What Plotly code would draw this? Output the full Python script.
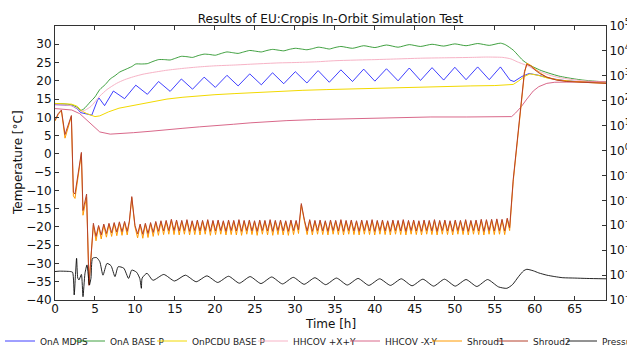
import plotly.graph_objects as go

# ---------------- data ----------------
SERIES_NAMES = ["OnA MDPS", "OnA BASE P", "OnPCDU BASE P", "HHCOV +X+Y",
                "HHCOV -X-Y", "Shroud1", "Shroud2", "Pressure"]

X_TICKS = [0, 5, 10, 15, 20, 25, 30, 35, 40, 45, 50, 55, 60, 65]
Y_TICKS = [-40, -35, -30, -25, -20, -15, -10, -5, 0, 5, 10, 15, 20, 25, 30]
Y2_TICKS = [1e-6, 1e-5, 1e-4, 1e-3, 1e-2, 1e-1, 1e0, 1e1, 1e2, 1e3, 1e4, 1e5]
Y2_TICKTEXT = ["10<sup>\u22126</sup>", "10<sup>\u22125</sup>", "10<sup>\u22124</sup>",
               "10<sup>\u22123</sup>", "10<sup>\u22122</sup>", "10<sup>\u22121</sup>",
               "10<sup>0</sup>", "10<sup>1</sup>", "10<sup>2</sup>", "10<sup>3</sup>",
               "10<sup>4</sup>", "10<sup>5</sup>"]

# OnA MDPS
T_MDPS = [0, 1.0, 2.1, 2.8, 3.2, 4.0, 4.6, 5.3, 5.5, 6.2,
          7.3, 8.7, 10.1, 11.55, 12.95, 14.4, 15.8, 17.2, 18.65, 20.05,
          21.5, 22.9, 24.35, 25.8, 27.2, 28.6, 30.05, 31.5, 32.9, 34.3,
          35.75, 37.2, 38.6, 40.0, 41.45, 42.9, 44.3, 45.7, 47.15, 48.6,
          50.0, 51.4, 52.85, 54.3, 55.7, 56.9, 57.4, 58.4, 59.3, 60.5,
          62.0, 64.0, 66.0, 68.9]
V_MDPS = [13.5, 13.4, 13.2, 12.3, 11.3, 10.9, 10.6, 14.6, 15.3, 13.2,
          17.2, 15.1, 18.8, 16.3, 19.8, 17.1, 20.5, 17.7, 21.0, 18.2,
          21.5, 18.6, 21.9, 18.9, 22.2, 19.2, 22.5, 19.4, 22.8, 19.6,
          23.0, 19.8, 23.2, 19.9, 23.3, 20.0, 23.5, 20.1, 23.6, 20.2,
          23.7, 20.3, 23.8, 20.3, 23.8, 20.2, 19.8, 21.2, 22.0, 21.5,
          20.6, 20.0, 19.7, 19.5]

# OnA BASE P
T_BASE = [0, 1.0, 2.1, 2.8, 3.2, 3.6, 4.4, 5.0, 5.6, 6.3,
          6.9, 7.5, 8.1, 8.9, 9.6, 10.1, 10.8, 11.55, 12.25, 12.95,
          13.7, 14.4, 15.1, 15.8, 16.5, 17.2, 17.9, 18.65, 19.35, 20.05,
          20.8, 21.5, 22.2, 22.9, 23.6, 24.35, 25.1, 25.8, 26.5, 27.2,
          27.9, 28.6, 29.3, 30.05, 30.8, 31.5, 32.2, 32.9, 33.6, 34.3,
          35.0, 35.75, 37.2, 38.6, 40.0, 41.45, 42.9, 44.3, 45.7, 47.15,
          48.6, 50.0, 51.4, 52.85, 54.3, 55.7, 56.3, 57.3, 57.9, 58.5,
          59.2, 59.8, 60.8, 61.9, 63.0, 63.9, 65.0, 66.0, 67.5, 68.9]
V_BASE = [13.8, 13.7, 13.4, 12.7, 11.9, 12.3, 14.2, 15.6, 17.6, 19.0,
          20.5, 21.4, 22.4, 23.2, 23.9, 24.6, 24.6, 24.7, 25.3, 25.8,
          25.8, 25.7, 26.2, 26.7, 26.6, 26.4, 26.9, 27.3, 27.2, 27.0,
          27.5, 27.9, 27.7, 27.5, 27.9, 28.3, 28.1, 27.9, 28.3, 28.6,
          28.4, 28.2, 28.6, 28.9, 28.7, 28.5, 28.8, 29.2, 29.0, 28.7,
          29.1, 29.4, 28.9, 29.6, 29.1, 29.8, 29.2, 29.9, 29.4, 30.0,
          29.5, 30.1, 29.6, 30.2, 29.7, 30.3, 29.9, 28.4, 27.0, 25.6,
          24.5, 23.8, 22.8, 22.0, 21.3, 20.9, 20.5, 20.2, 19.9, 19.7]

# OnPCDU BASE P
T_PCDU = [0, 2.1, 2.8, 3.3, 4.0, 5.0, 5.6, 6.7, 8.0, 9.8,
          12.0, 14.0, 16.0, 18.0, 20.0, 22.5, 25.0, 28.0, 31.0, 34.0,
          37.0, 40.0, 43.0, 46.0, 49.0, 52.0, 55.0, 56.5, 57.3, 58.0,
          58.7, 59.4, 60.4, 61.5, 63.0, 65.0, 66.9, 68.9]
V_PCDU = [13.8, 13.6, 13.0, 11.8, 11.0, 10.2, 10.4, 11.5, 12.5, 13.3,
          14.3, 15.0, 15.5, 15.9, 16.2, 16.5, 16.8, 17.1, 17.4, 17.6,
          17.8, 18.0, 18.2, 18.3, 18.5, 18.6, 18.7, 18.8, 19.0, 20.0,
          21.2, 21.9, 21.5, 20.8, 20.2, 19.8, 19.7, 19.6]

# HHCOV +X+Y
T_HHP = [0, 2.0, 2.8, 3.2, 3.8, 4.5, 5.6, 6.5, 7.7, 8.7,
         9.8, 11.0, 12.0, 14.0, 16.0, 18.0, 20.0, 22.3, 25.0, 28.0,
         30.0, 32.7, 35.0, 38.0, 40.0, 43.0, 46.0, 49.0, 52.0, 54.0,
         56.0, 57.0, 57.8, 58.5, 59.2, 60.0, 61.0, 61.9, 63.0, 64.5,
         66.0, 68.9]
V_HHP = [13.4, 13.2, 12.4, 11.6, 12.0, 13.0, 15.8, 17.6, 19.3, 20.3,
         21.1, 21.8, 22.2, 22.9, 23.4, 23.8, 24.1, 24.3, 24.6, 24.9,
         25.0, 25.2, 25.5, 25.7, 25.8, 26.0, 26.2, 26.3, 26.4, 26.5,
         26.4, 26.0, 25.2, 24.6, 24.0, 23.0, 22.2, 21.5, 20.9, 20.4,
         20.0, 19.7]

# HHCOV -X-Y
T_HHM = [0, 2.1, 3.1, 4.4, 5.6, 6.9, 8.0, 9.8, 12.0, 14.0,
         16.0, 18.1, 20.0, 22.3, 24.5, 26.5, 29.0, 32.7, 34.8, 38.0,
         43.1, 47.0, 51.5, 55.0, 57.1, 57.6, 58.3, 59.0, 59.8, 60.5,
         61.5, 62.5, 63.9, 66.0, 68.9]
V_HHM = [12.4, 12.0, 11.0, 8.3, 6.0, 5.4, 5.5, 5.8, 6.2, 6.5,
         7.0, 7.4, 7.8, 8.1, 8.5, 8.8, 9.1, 9.4, 9.5, 9.7,
         10.0, 10.1, 10.1, 10.1, 10.2, 11.2, 12.9, 15.0, 17.2, 18.4,
         19.3, 19.6, 19.7, 19.7, 19.7]

# Shrouds (time in segments)
T_SH_EARLY = [0.0, 0.4, 0.8, 1.25, 2.05, 2.3, 2.5, 3.3, 3.5, 3.95, 4.25, 4.8]
S2_EARLY = [9.2, 11.0, 12.0, 5.3, 10.5, -10.5, -11.0, 0.4, -15.5, -11.0, -36.0, -19.0]
S1_EARLY = [9.0, 10.8, 11.8, 4.3, 10.2, -11.5, -12.2, 0.0, -16.8, -11.8, -35.5, -19.5]

T_SH_A = [5.13, 5.45, 5.78, 6.1, 6.43, 6.75, 7.08, 7.4, 7.73, 8.05, 8.38, 8.7, 9.03, 9.3,
          9.6, 10.0]
S2_A = [-22.6, -19.6, -22.2, -19.2, -21.8, -19.0, -21.6, -18.8, -21.4, -18.6, -21.3, -18.5,
        -21.2, -18.4, -11.7, -19.6]
S1_A = [-23.8, -19.9, -23.3, -19.5, -22.8, -19.3, -22.6, -19.1, -22.4, -18.9, -22.3, -18.8,
        -22.2, -18.7, -12.0, -20.0]

T_SH_B = [10.33, 10.65, 10.98, 11.3, 11.63, 11.95, 12.28, 12.6, 12.93, 13.25,
          13.58, 13.9, 14.23, 14.55, 14.88, 15.2, 15.53, 15.85, 16.18, 16.5,
          16.83, 17.15, 17.48, 17.8, 18.13, 18.45, 18.78, 19.1, 19.43, 19.75,
          20.08, 20.4, 20.73, 21.05, 21.38, 21.7, 22.03, 22.35, 22.68, 23.0,
          23.33, 23.65, 23.98, 24.3, 24.63, 24.95, 25.28, 25.6, 25.93, 26.25,
          26.58, 26.9, 27.23, 27.55, 27.88, 28.2, 28.53, 28.85, 29.18, 29.5,
          29.83, 30.15, 30.45, 30.8, 31.2]
S2_B = [-21.9, -19.2, -22.0, -19.0, -21.8, -18.8, -21.5, -18.5, -21.2, -18.3,
        -21.1, -18.2, -21.0, -17.9, -21.0, -18.1, -21.1, -18.2, -21.0, -18.0,
        -21.2, -18.3, -21.0, -18.1, -21.1, -18.2, -21.0, -18.0, -21.2, -18.2,
        -21.1, -18.1, -21.0, -18.3, -21.2, -18.1, -21.0, -18.2, -21.1, -18.0,
        -21.2, -18.2, -21.0, -18.1, -21.1, -18.3, -21.2, -18.1, -21.0, -18.2,
        -21.1, -18.0, -21.2, -18.2, -21.0, -18.1, -21.1, -18.3, -21.2, -18.1,
        -21.0, -18.2, -20.8, -13.6, -18.2]
S1_B = [-23.0, -19.5, -23.1, -19.3, -22.9, -19.1, -22.6, -18.8, -22.3, -18.6,
        -22.1, -18.5, -22.0, -18.2, -22.1, -18.4, -22.2, -18.5, -22.0, -18.3,
        -22.2, -18.6, -22.1, -18.4, -22.2, -18.5, -22.0, -18.3, -22.3, -18.5,
        -22.1, -18.4, -22.0, -18.6, -22.2, -18.4, -22.1, -18.5, -22.2, -18.3,
        -22.3, -18.5, -22.0, -18.4, -22.1, -18.6, -22.3, -18.4, -22.0, -18.5,
        -22.2, -18.3, -22.3, -18.5, -22.1, -18.4, -22.2, -18.6, -22.3, -18.4,
        -22.1, -18.5, -21.8, -14.0, -18.6]

T_SH_C = [31.53, 31.85, 32.18, 32.5, 32.83, 33.15, 33.48, 33.8, 34.13, 34.45,
          34.78, 35.1, 35.43, 35.75, 36.08, 36.4, 36.73, 37.05, 37.38, 37.7,
          38.03, 38.35, 38.68, 39.0, 39.33, 39.65, 39.98, 40.3, 40.63, 40.95,
          41.28, 41.6, 41.93, 42.25, 42.58, 42.9, 43.23, 43.55, 43.88, 44.2,
          44.53, 44.85, 45.18, 45.5, 45.83, 46.15, 46.48, 46.8, 47.13, 47.45,
          47.78, 48.1, 48.43, 48.75, 49.08, 49.4, 49.73, 50.05, 50.38, 50.7,
          51.03, 51.35, 51.68, 52.0, 52.33, 52.65, 52.98, 53.3, 53.63, 53.95,
          54.28, 54.6, 54.93, 55.25, 55.58, 55.9, 56.23, 56.55, 56.85]
S2_C = [-21.1, -18.0, -21.2, -18.2, -21.0, -18.1, -21.1, -18.3, -21.2, -18.1,
        -21.0, -18.2, -21.1, -18.0, -21.2, -18.2, -21.0, -18.1, -21.1, -18.3,
        -21.2, -18.1, -21.0, -18.2, -21.1, -18.0, -21.2, -18.2, -21.0, -18.1,
        -21.1, -18.3, -21.2, -18.1, -21.0, -18.2, -21.1, -18.0, -21.2, -18.2,
        -21.0, -18.1, -21.1, -18.3, -21.2, -18.1, -21.0, -18.2, -21.1, -18.0,
        -21.2, -18.2, -21.0, -18.1, -21.1, -18.3, -21.2, -18.1, -21.0, -18.2,
        -21.1, -18.0, -21.2, -18.2, -21.0, -18.1, -21.1, -17.9, -21.2, -18.0,
        -21.0, -17.9, -21.1, -17.8, -21.0, -17.9, -21.1, -17.6, -20.2]
S1_C = [-22.1, -18.3, -22.2, -18.5, -22.0, -18.4, -22.1, -18.6, -22.2, -18.4,
        -22.0, -18.5, -22.1, -18.3, -22.2, -18.5, -22.0, -18.4, -22.1, -18.6,
        -22.2, -18.4, -22.0, -18.5, -22.1, -18.3, -22.2, -18.5, -22.0, -18.4,
        -22.1, -18.6, -22.2, -18.4, -22.0, -18.5, -22.1, -18.3, -22.2, -18.5,
        -22.0, -18.4, -22.1, -18.6, -22.2, -18.4, -22.0, -18.5, -22.1, -18.3,
        -22.2, -18.5, -22.0, -18.4, -22.1, -18.6, -22.2, -18.4, -22.0, -18.5,
        -22.1, -18.3, -22.2, -18.5, -22.0, -18.4, -22.1, -18.2, -22.2, -18.3,
        -22.0, -18.2, -22.1, -18.1, -22.0, -18.2, -22.1, -17.9, -21.0]

T_SH_END = [57.3, 58.1, 58.7, 59.0, 59.5, 60.0, 60.6, 61.5, 62.7, 64.0, 65.6, 67.0, 68.9]
S2_END = [-7.0, 9.0, 22.5, 24.5, 24.0, 23.0, 22.0, 21.0, 20.2, 19.8, 19.6, 19.4, 19.3]
S1_END = [-7.5, 8.5, 22.0, 24.8, 24.2, 23.3, 22.2, 21.0, 20.3, 19.9, 19.6, 19.5, 19.3]

# Pressure [mbar]
T_PRESS = [0, 0.6, 1.9, 2.2, 2.4, 2.55, 2.7, 2.85, 3.0, 3.3,
           3.5, 3.75, 4.0, 4.3, 4.5, 4.7, 5.2, 5.6, 6.0, 6.5,
           7.0, 7.5, 7.9, 8.6, 9.2, 9.6, 10.2, 10.6, 10.8, 10.9,
           11.5, 12.25, 13.6, 14.95, 16.3, 17.65, 19.0, 20.35, 21.7, 23.05,
           24.4, 25.75, 27.1, 28.45, 29.8, 31.15, 32.5, 33.85, 35.2, 36.55,
           37.9, 39.25, 40.6, 41.95, 43.3, 44.65, 46.0, 47.35, 48.7, 50.05,
           51.4, 52.75, 54.1, 55.45, 56.5, 57.2, 58.0, 58.6, 59.0, 59.8,
           60.5, 61.5, 62.5, 63.5, 65.0, 66.5, 68.9]
V_PRESS = [1.39e-5, 1.44e-5, 1.39e-5, 1.30e-5, 1.60e-6, 8.98e-6, 4.70e-5, 7.59e-6, 6.41e-6, 1.06e-5,
           1.36e-6, 1.18e-5, 2.56e-5, 3.99e-6, 7.59e-6, 4.70e-5, 5.03e-5, 3.47e-5, 9.94e-6, 2.93e-5,
           2.39e-5, 8.69e-6, 2.16e-5, 1.89e-5, 7.33e-6, 1.59e-5, 1.30e-5, 7.33e-6, 2.95e-6, 7.59e-6,
           1.18e-5, 6.19e-6, 1.06e-5, 5.79e-6, 9.94e-6, 5.41e-6, 9.29e-6, 5.06e-6, 8.98e-6, 4.73e-6,
           8.69e-6, 4.57e-6, 8.39e-6, 4.42e-6, 8.11e-6, 4.27e-6, 7.84e-6, 4.13e-6, 7.59e-6, 3.99e-6,
           7.33e-6, 3.86e-6, 7.09e-6, 3.86e-6, 7.09e-6, 3.73e-6, 6.85e-6, 3.61e-6, 6.85e-6, 3.61e-6,
           6.63e-6, 3.49e-6, 6.63e-6, 3.37e-6, 2.95e-6, 4.13e-6, 8.98e-6, 1.49e-5, 1.71e-5, 1.49e-5,
           1.22e-5, 9.94e-6, 8.69e-6, 7.84e-6, 7.59e-6, 7.33e-6, 7.09e-6]

T_SHROUD = T_SH_EARLY + T_SH_A + T_SH_B + T_SH_C + T_SH_END
V_SHROUD1 = S1_EARLY + S1_A + S1_B + S1_C + S1_END
V_SHROUD2 = S2_EARLY + S2_A + S2_B + S2_C + S2_END

X_TITLE = "Time [h]"
Y_TITLE = "Temperature [°C]"
CHART_TITLE = "Results of EU:Cropis In-Orbit Simulation Test"

# ---------------- styling ----------------
W, H = 680, 351          # page is 627 wide; the rest is cut off like the reference
PLOT_L, PLOT_R, PLOT_T, PLOT_B = 55, 606, 26, 300
FONT = "DejaVu Sans"
COLORS = ["rgba(0,0,255,0.75)", "rgba(0,128,0,0.75)", "#f2d900", "#f7b3c6",
          "#d9688a", "#ff9a00", "#b5402c", "rgba(0,0,0,0.85)"]
LEGEND_TEXT_X = [33, 110, 192, 293, 385, 467, 533, 602]
LEGEND_Y = 341

series = [
    (T_MDPS, V_MDPS, "y"), (T_BASE, V_BASE, "y"), (T_PCDU, V_PCDU, "y"),
    (T_HHP, V_HHP, "y"), (T_HHM, V_HHM, "y"), (T_SHROUD, V_SHROUD1, "y"),
    (T_SHROUD, V_SHROUD2, "y"), (T_PRESS, V_PRESS, "y2"),
]

fig = go.Figure()
legend_layout = {}
for i, (name, (tx, ty, ax), col) in enumerate(zip(SERIES_NAMES, series, COLORS)):
    lg = "legend" if i == 0 else f"legend{i + 1}"
    fig.add_trace(go.Scatter(
        x=tx, y=ty, name=name, mode="lines", yaxis=ax, legend=lg,
        line=dict(color=col, width=1, shape="spline" if i in (1, 3, 7) else "linear",
                  smoothing=0.6),
    ))
    legend_layout[lg] = dict(
        x=(LEGEND_TEXT_X[i] - 40) / W, xref="container", xanchor="left",
        y=1 - LEGEND_Y / H, yref="container", yanchor="middle",
        orientation="h", bgcolor="rgba(0,0,0,0)", borderwidth=0,
        font=dict(family=FONT, size=9, color="#222"),
    )

axis_common = dict(showgrid=False, zeroline=False, showline=True, linecolor="#333",
                   linewidth=1, ticks="inside", ticklen=4, tickcolor="#333",
                   tickfont=dict(family=FONT, size=12, color="#111"))

fig.update_layout(
    width=W, height=H,
    margin=dict(l=PLOT_L, r=W - PLOT_R, t=PLOT_T, b=H - PLOT_B, autoexpand=False),
    paper_bgcolor="white", plot_bgcolor="white",
    font=dict(family=FONT, size=12, color="#111"),
    title=dict(text=CHART_TITLE, x=0.5, xref="paper", xanchor="center",
               y=1 - 19 / H, yref="container", yanchor="middle",
               font=dict(family=FONT, size=12, color="#111")),
    xaxis=dict(range=[0, 68.9], tickvals=X_TICKS, mirror="ticks",
               ticklabelstandoff=-2, **axis_common),
    yaxis=dict(range=[-40, 35], tickvals=Y_TICKS, **axis_common),
    yaxis2=dict(type="log", overlaying="y", side="right", range=[-6, 5],
                tickvals=Y2_TICKS, ticktext=Y2_TICKTEXT, **axis_common),
    showlegend=True,
    annotations=[
        dict(text=X_TITLE, xref="paper", x=0.5, xanchor="center",
             yref="paper", y=-(324 - PLOT_B) / (PLOT_B - PLOT_T), yanchor="middle",
             showarrow=False, font=dict(family=FONT, size=12, color="#111")),
        dict(text=Y_TITLE, textangle=-90, xref="paper", x=-(PLOT_L - 18) / (PLOT_R - PLOT_L),
             xanchor="center", yref="paper", y=0.5, yanchor="middle",
             showarrow=False, font=dict(family=FONT, size=12, color="#111")),
    ],
    **legend_layout,
)

fig.write_html("out.html", post_script=(
    "document.documentElement.style.overflow='hidden';"
    "document.body.style.overflow='hidden';document.body.style.margin='0';"))
